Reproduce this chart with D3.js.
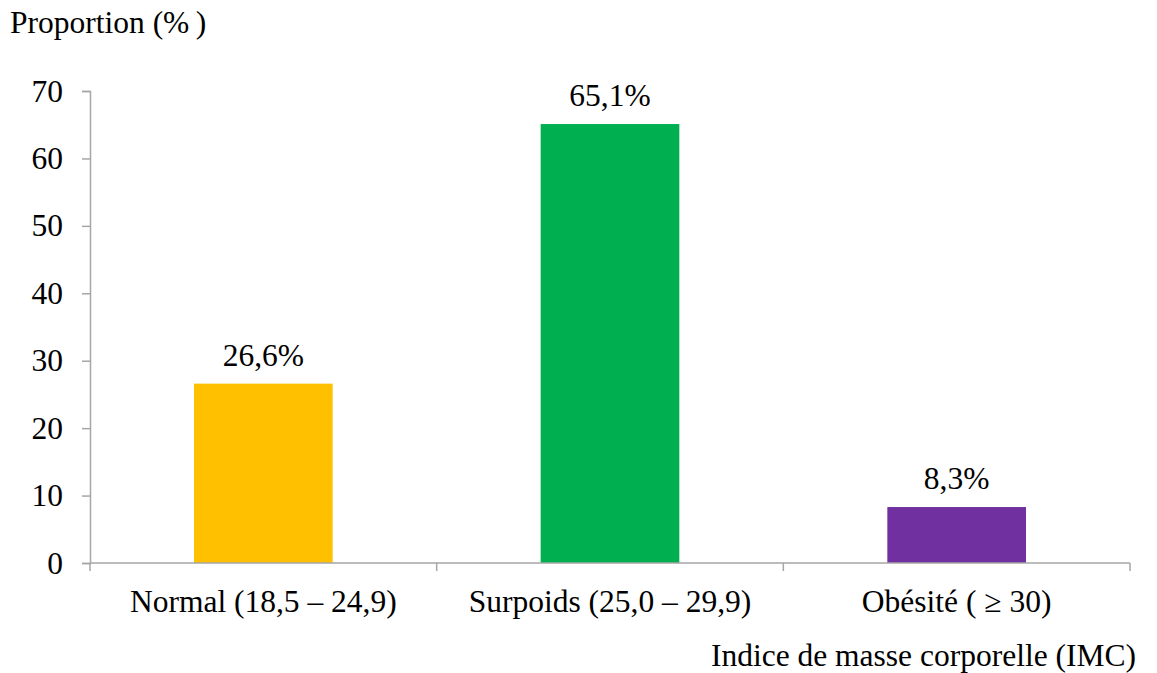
<!DOCTYPE html>
<html>
<head>
<meta charset="utf-8">
<script src="https://cdn.jsdelivr.net/npm/d3@7"></script>
<style>
  html, body { margin: 0; padding: 0; background: #fff; }
  svg text { font-family: "Liberation Serif", "Times New Roman", serif; fill: #000; }
</style>
</head>
<body>
<svg id="chart" width="1157" height="673"></svg>
<script>
// IMC categories and their share of respondents (%)
const categories = ["Normal (18,5 – 24,9)", "Surpoids (25,0 – 29,9)", "Obésité ( ≥ 30)"];
const values = [26.6, 65.1, 8.3];
const valueLabels = ["26,6%", "65,1%", "8,3%"];
const barColors = ["#FFC000", "#00B050", "#7030A0"];
const yTicks = [0, 10, 20, 30, 40, 50, 60, 70];

const svg = d3.select("#chart");
const plotLeft = 90, plotRight = 1130, plotTop = 91, plotBottom = 563;
const axisColor = "#a6a6a6";
const fontSize = 31.5;

const x = d3.scaleBand().domain(categories).range([plotLeft, plotRight]).paddingInner(0.6).paddingOuter(0.3);
const xBand = d3.scaleBand().domain(categories).range([plotLeft, plotRight]).padding(0);
const y = d3.scaleLinear().domain([0, 70]).range([plotBottom, plotTop]);

// bars
svg.append("g").selectAll("rect").data(categories).join("rect")
  .attr("x", d => x(d))
  .attr("width", x.bandwidth())
  .attr("y", (d, i) => y(values[i]))
  .attr("height", (d, i) => y(0) - y(values[i]))
  .attr("fill", (d, i) => barColors[i]);

// value labels
svg.append("g").selectAll("text").data(categories).join("text")
  .attr("x", d => x(d) + x.bandwidth() / 2)
  .attr("y", (d, i) => y(values[i]) - 18)
  .attr("text-anchor", "middle")
  .attr("font-size", fontSize)
  .text((d, i) => valueLabels[i]);

// y axis
const yAxis = svg.append("g").attr("transform", `translate(${plotLeft},0)`)
  .call(d3.axisLeft(y).tickValues(yTicks).tickSize(8).tickPadding(19).tickFormat(d3.format("d")));
yAxis.select(".domain").attr("stroke", axisColor).attr("stroke-width", 1.5);
yAxis.selectAll(".tick line").attr("stroke", axisColor).attr("stroke-width", 1.5);
yAxis.selectAll(".tick text").attr("font-size", fontSize).attr("font-family", "Liberation Serif").attr("fill", "#000");

// x axis with category boundary ticks
const xAxisG = svg.append("g").attr("transform", `translate(0,${plotBottom})`);
xAxisG.append("line").attr("x1", plotLeft).attr("x2", plotRight).attr("stroke", axisColor).attr("stroke-width", 1.5);
const bounds = categories.map(d => xBand(d)).concat([plotRight]);
xAxisG.selectAll("line.tick").data(bounds).join("line").attr("class", "tick")
  .attr("x1", d => d).attr("x2", d => d).attr("y1", 0).attr("y2", 8)
  .attr("stroke", axisColor).attr("stroke-width", 1.5);
xAxisG.selectAll("text").data(categories).join("text")
  .attr("x", d => xBand(d) + xBand.bandwidth() / 2)
  .attr("y", 49)
  .attr("text-anchor", "middle")
  .attr("font-size", fontSize)
  .text(d => d);

// axis titles
svg.append("text").attr("x", 10).attr("y", 33).attr("font-size", fontSize).text("Proportion (%\u2009)");
svg.append("text").attr("x", 1136).attr("y", 666).attr("text-anchor", "end").attr("font-size", fontSize)
  .text("Indice de masse corporelle (IMC)");
</script>
</body>
</html>
